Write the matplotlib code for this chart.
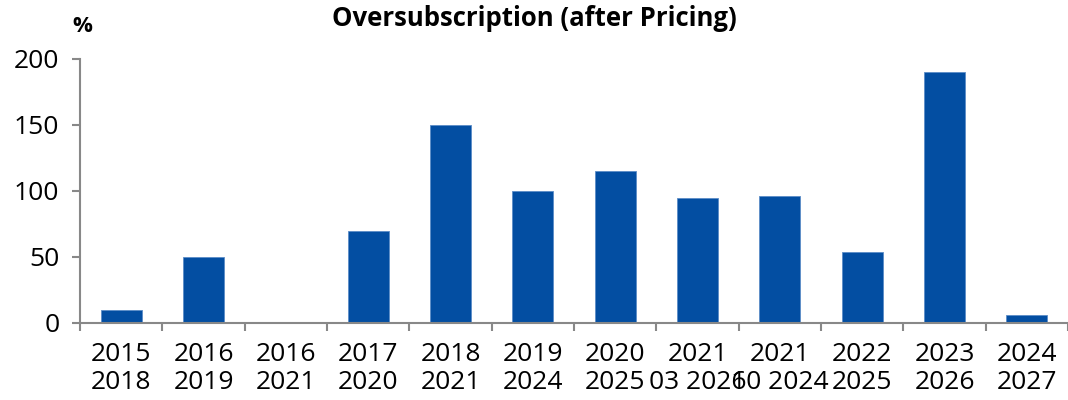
import numpy as np
import matplotlib.pyplot as plt

plt.rcParams['font.family'] = ['Open Sans', 'DejaVu Sans']

labels = ["2015\n2018", "2016\n2019", "2016\n2021", "2017\n2020", "2018\n2021",
          "2019\n2024", "2020\n2025", "2021\n03 2026", "2021\n10 2024",
          "2022\n2025", "2023\n2026", "2024\n2027"]
values = [10, 50, 0, 70, 150, 100, 115, 95, 96, 54, 190, 6]

def main():
    fig = plt.figure(figsize=(10.68, 4.0), dpi=100)
    ax = fig.add_axes([0.075, 0.1925, 0.925, 0.66])
    x = np.arange(len(values))
    ax.bar(x, values, width=0.5, color='#034EA2', edgecolor='#5b8cc7', linewidth=0.6)
    ax.set_xlim(-0.5, len(values) - 0.5)
    ax.set_ylim(0, 200)
    ax.set_yticks([0, 50, 100, 150, 200])
    ax.set_xticks(x)
    # the two bottom lines of labels 8 and 9 overlap in the original too
    ax.set_xticklabels(labels, fontsize=19, linespacing=1.12)
    ax.set_xticks(np.arange(len(values) + 1) - 0.5, minor=True)
    ax.tick_params(axis='x', which='major', length=0, pad=14)
    ax.tick_params(axis='x', which='minor', length=6, color='#888888', width=1.5, direction='out')
    ax.tick_params(axis='y', labelsize=19, length=6, color='#888888', width=1.5, pad=9)
    for s in ['top', 'right']:
        ax.spines[s].set_visible(False)
    for s in ['left', 'bottom']:
        ax.spines[s].set_color('#888888')
        ax.spines[s].set_linewidth(1.5)
    fig.text(0.5, 0.955, "Oversubscription (after Pricing)", ha='center', va='center',
             fontsize=18.5, fontweight='bold')
    fig.text(0.077, 0.935, "%", ha='center', va='center', fontsize=16, fontweight='bold')
    fig.savefig("out.png", dpi=100)

if __name__ == "__main__":
    main()
